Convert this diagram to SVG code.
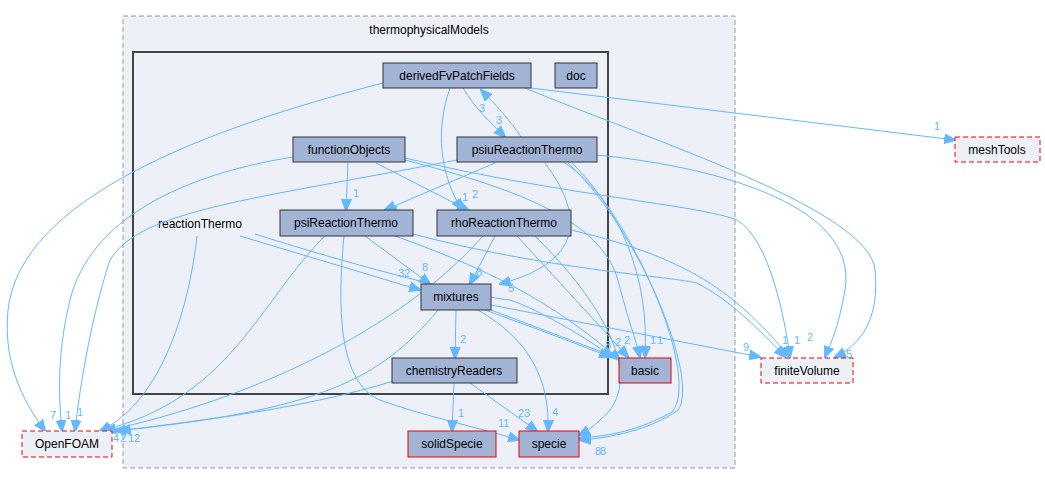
<svg xmlns="http://www.w3.org/2000/svg" width="1045" height="484" viewBox="0 0 1045 484">
<style>
text{font-family:"Liberation Sans",Arial,sans-serif;font-size:12px;}
.n rect{fill:#a2b4d6;stroke:#333;stroke-width:1;}
.n.r rect{stroke:#e00;}
.ext rect{fill:#edf0f7;stroke:#e00;stroke-dasharray:5,3;}
.n text,.ext text{text-anchor:middle;fill:#000;}
.e path{fill:none;stroke:#63b8ff;stroke-width:1;marker-end:url(#a);}
.l text{fill:#63b8ff;font-size:11px;}
</style>
<defs><marker id="a" viewBox="0 0 10 10" refX="9" refY="5" markerWidth="12" markerHeight="12" markerUnits="userSpaceOnUse" orient="auto"><path d="M0,1 L10,5 L0,9 z" fill="#63b8ff" stroke="#63b8ff"/></marker></defs>
<rect width="1045" height="484" fill="#fff"/>
<g id="cluster_thermophysicalModels"><rect x="123" y="16" width="612" height="452" fill="#edf0f7" stroke="#999" stroke-dasharray="5,3"/><text x="429" y="34" text-anchor="middle">thermophysicalModels</text></g>
<g id="cluster_reactionThermo"><rect x="133" y="52" width="475" height="342" fill="#edf0f7" stroke="#444" stroke-width="2"/><text x="200" y="228" text-anchor="middle">reactionThermo</text></g>
<g class="e" id="edges">
<path d="M383,83 C200,130 20,200 8,310 C2,370 30,410 45,431"/>
<path d="M463,88 C475,108 490,122 505,137"/>
<path d="M521,137 C510,120 495,104 481,90"/>
<path d="M450,88 C435,130 440,175 462,210"/>
<path d="M525,88 C650,140 870,210 875,270 C880,320 860,345 835,357"/>
<path d="M531,88 L955,140"/>
<path d="M293,157 C180,175 90,220 70,300 C55,360 60,410 62,431"/>
<path d="M348,163 L346,210"/>
<path d="M376,163 L468,210"/>
<path d="M405,160 C520,190 600,220 618,280 C628,320 636,340 640,357"/>
<path d="M405,158 C560,195 700,205 737,220 C770,240 785,320 790,357"/>
<path d="M457,160 C250,200 140,210 110,260 C90,320 78,400 75,431"/>
<path d="M495,163 L385,210"/>
<path d="M545,163 C580,210 590,260 500,284"/>
<path d="M565,163 C620,200 650,280 645,357"/>
<path d="M568,163 C640,230 700,380 678,410 C650,430 610,438 580,440"/>
<path d="M572,163 C640,230 700,380 672,412 C640,430 610,436 580,438"/>
<path d="M597,155 C700,165 860,200 845,290 C838,330 830,345 825,357"/>
<path d="M325,236 C260,300 230,400 100,431"/>
<path d="M365,236 L430,284"/>
<path d="M344,236 C335,330 345,385 380,400 C420,415 480,428 519,440"/>
<path d="M395,236 C490,270 550,300 620,360"/>
<path d="M413,234 C550,270 660,275 697,283 C730,300 760,330 785,357"/>
<path d="M483,236 C400,330 250,400 105,431"/>
<path d="M495,236 L470,284"/>
<path d="M517,236 L628,357"/>
<path d="M535,236 C600,300 650,380 600,420 C590,430 585,432 579,435"/>
<path d="M571,230 C700,260 740,300 790,357"/>
<path d="M197,236 C190,300 165,400 100,431"/>
<path d="M240,236 L420,290"/>
<path d="M255,234 C400,280 500,300 510,300 C540,310 590,340 612,357"/>
<path d="M438,310 C380,380 320,410 115,431"/>
<path d="M456,310 L455,358"/>
<path d="M491,310 L615,357"/>
<path d="M485,310 C540,330 580,345 610,357"/>
<path d="M478,310 C530,340 550,380 548,431"/>
<path d="M491,305 L760,357"/>
<path d="M397,380 C300,410 200,420 120,431"/>
<path d="M454,383 L452,431"/>
<path d="M470,383 L537,431"/>
</g>
<g class="l" id="edge-labels">
<text x="50" y="419">7</text><text x="65" y="419">1</text><text x="77" y="416">1</text>
<text x="113" y="442">4</text><text x="120" y="442">2</text><text x="128" y="442">12</text>
<text x="479" y="112">3</text><text x="496" y="124">3</text>
<text x="462" y="201">1</text><text x="472" y="198">2</text>
<text x="353" y="197">1</text><text x="393" y="214">1</text>
<text x="934" y="130">1</text>
<text x="422" y="271">8</text><text x="398" y="277">32</text><text x="476" y="276">8</text><text x="508" y="292">5</text>
<text x="460" y="343">2</text><text x="743" y="351">9</text>
<text x="605" y="349">8</text><text x="615" y="346">2</text><text x="624" y="344">2</text><text x="650" y="344">1</text><text x="657" y="344">1</text>
<text x="782" y="344">1</text><text x="794" y="344">1</text><text x="807" y="341">2</text><text x="840" y="358">15</text>
<text x="458" y="417">1</text><text x="518" y="417">23</text><text x="552" y="416">4</text><text x="498" y="427">11</text><text x="595" y="455">8</text><text x="600" y="455">8</text>
</g>
<g id="derivedFvPatchFields" class="n"><rect x="383" y="63" width="148" height="25"/><text x="457" y="80">derivedFvPatchFields</text></g>
<g id="doc" class="n"><rect x="555" y="63" width="42" height="25"/><text x="576" y="80">doc</text></g>
<g id="functionObjects" class="n"><rect x="293" y="137" width="112" height="25"/><text x="349" y="154">functionObjects</text></g>
<g id="psiuReactionThermo" class="n"><rect x="457" y="137" width="140" height="25"/><text x="527" y="154">psiuReactionThermo</text></g>
<g id="psiReactionThermo" class="n"><rect x="280" y="210" width="133" height="26"/><text x="346" y="227">psiReactionThermo</text></g>
<g id="rhoReactionThermo" class="n"><rect x="437" y="210" width="134" height="26"/><text x="504" y="227">rhoReactionThermo</text></g>
<g id="mixtures" class="n"><rect x="421" y="284" width="70" height="26"/><text x="456" y="301">mixtures</text></g>
<g id="chemistryReaders" class="n"><rect x="392" y="358" width="125" height="25"/><text x="454" y="375">chemistryReaders</text></g>
<g id="basic" class="n r"><rect x="619" y="358" width="52" height="25"/><text x="645" y="375">basic</text></g>
<g id="solidSpecie" class="n r"><rect x="408" y="431" width="88" height="26"/><text x="452" y="448">solidSpecie</text></g>
<g id="specie" class="n r"><rect x="519" y="431" width="60" height="26"/><text x="549" y="448">specie</text></g>
<g id="OpenFOAM" class="ext"><rect x="22" y="431" width="90" height="26"/><text x="67" y="448">OpenFOAM</text></g>
<g id="finiteVolume" class="ext"><rect x="761" y="358" width="92" height="25"/><text x="807" y="375">finiteVolume</text></g>
<g id="meshTools" class="ext"><rect x="955" y="137" width="85" height="25"/><text x="997" y="154">meshTools</text></g>
</svg>
